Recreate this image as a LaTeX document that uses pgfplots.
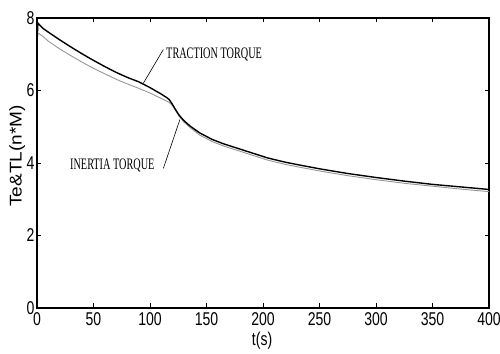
\documentclass[border=0pt]{standalone}
\usepackage{fontspec}
\usepackage{pgfplots}
\pgfplotsset{compat=1.18}
\setmainfont{Liberation Sans}
\newfontfamily\narrowsans[FakeStretch=0.76]{Liberation Sans}
\newfontfamily\widesans[FakeStretch=1.12]{Liberation Sans}
\newfontfamily\narrowserif[FakeStretch=0.64]{Liberation Serif}
\definecolor{grayline}{RGB}{150,150,150}
\begin{document}
\begin{tikzpicture}
\begin{axis}[
  scale only axis,
  width=452bp, height=290bp,
  xmin=0, xmax=400, ymin=0, ymax=8,
  xtick={0,50,...,400}, ytick={0,2,4,6,8},
  tick align=inside,
  major tick length=4.5bp,
  tick style={black, line width=0.6bp},
  axis line style={line width=1.2bp},
  /pgf/number format/assume math mode=true,
  tick label style={font=\fontsize{18.5bp}{18.5bp}\selectfont\narrowsans},
  xticklabel style={yshift=-1bp},
  yticklabel style={xshift=1bp},
  xlabel={t(s)},
  xlabel style={font=\fontsize{18.5bp}{18.5bp}\selectfont\narrowsans, at={(axis description cs:0.498,-0.114)}, anchor=center},
  ylabel={Te\&TL(n*M)},
  ylabel style={font=\fontsize{17bp}{17bp}\selectfont\widesans, at={(axis description cs:-0.044,0.524)}, anchor=center},
]
\addplot[grayline, line width=0.9bp] coordinates {
(1,7.58) (5,7.50) (10,7.36) (20,7.15) (30,6.96) (40,6.78) (50,6.61) (60,6.46) (70,6.31) (80,6.18) (90,6.06) (100,5.93) (110,5.78) (117,5.67) (120,5.58) (123,5.43) (126,5.28) (130,5.13) (135,4.99) (144,4.77) (155,4.59) (165,4.47) (175,4.37) (190,4.22) (204,4.08) (220,3.96) (233,3.88) (250,3.78) (275,3.65) (300,3.54) (325,3.44) (350,3.36) (375,3.28) (400,3.21)
};
\addplot[black, line width=1.4bp] coordinates {
(0,7.30) (0.8,7.86) (5,7.72) (10,7.61) (20,7.40) (30,7.20) (40,7.01) (50,6.83) (60,6.66) (70,6.50) (80,6.36) (90,6.24) (100,6.08) (110,5.90) (115,5.80) (117,5.75) (120,5.61) (123,5.45) (126,5.31) (130,5.17) (135,5.03) (144,4.83) (155,4.65) (165,4.53) (175,4.43) (190,4.28) (204,4.14) (220,4.02) (233,3.94) (250,3.84) (275,3.71) (300,3.60) (325,3.50) (350,3.41) (375,3.34) (400,3.27)
};
\draw[black, line width=0.6bp] (axis cs:94.1,6.2) -- (axis cs:111.8,7.13);
\draw[black, line width=0.6bp] (axis cs:111.8,3.85) -- (axis cs:126.5,5.2);
\node[anchor=base west, inner sep=0pt, font=\fontsize{16bp}{16bp}\selectfont\narrowserif] at (axis cs:114.2,6.89) {TRACTION TORQUE};
\node[anchor=base west, inner sep=0pt, font=\fontsize{16bp}{16bp}\selectfont\narrowserif] at (axis cs:29.2,3.83) {INERTIA TORQUE};
\coordinate (A) at (rel axis cs:0,0);
\coordinate (B) at (rel axis cs:1,1);
\end{axis}
\pgfresetboundingbox
\path (A) ++(-37bp,-46bp) rectangle ([shift={(11bp,18bp)}]B);
\end{tikzpicture}
\end{document}
